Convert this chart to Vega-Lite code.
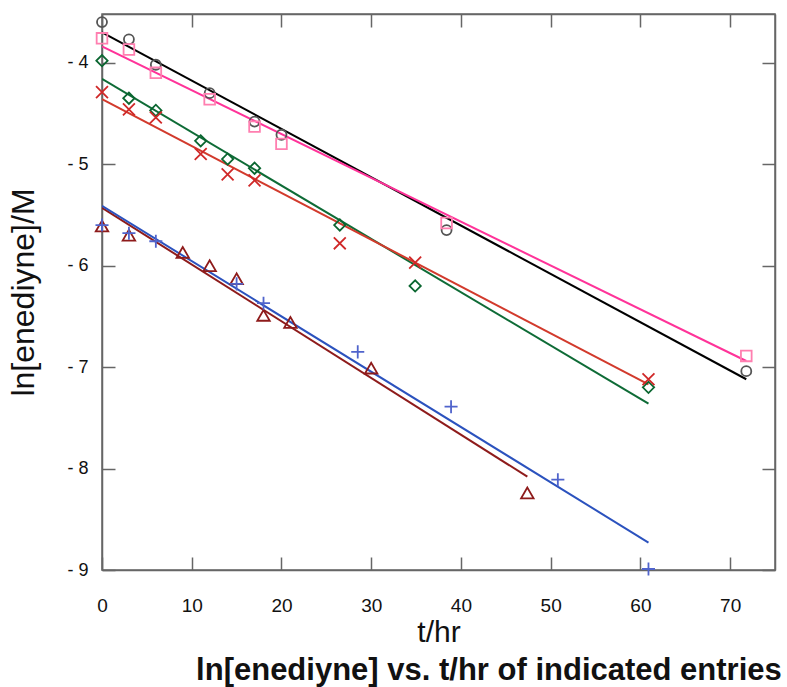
{
  "$schema": "https://vega.github.io/schema/vega-lite/v6.json",
  "width": 673,
  "height": 556,
  "autosize": {"type": "none"},
  "padding": {"left": 102, "top": 14, "right": 12, "bottom": 117},
  "background": "white",
  "config": {
    "view": {"stroke": "#666", "strokeWidth": 1.5},
    "font": "Liberation Sans",
    "axis": {
      "domainColor": "#666",
      "domainWidth": 1.5,
      "tickColor": "#666",
      "tickWidth": 1.5,
      "grid": false,
      "labelFlush": false,
      "labelFont": "Liberation Sans",
      "labelColor": "#111",
      "titleFont": "Liberation Sans",
      "titleFontWeight": "normal",
      "titleColor": "#111"
    }
  },
  "title": {
    "text": "ln[enediyne] vs. t/hr of indicated entries",
    "orient": "bottom",
    "anchor": "end",
    "fontSize": 31,
    "fontWeight": "bold",
    "font": "Liberation Sans",
    "color": "#111",
    "offset": 9,
    "dx": 6
  },
  "datasets": {
    "pts": [
      {"series": "A", "t": 0, "y": -3.6},
      {"series": "A", "t": 3, "y": -3.77},
      {"series": "A", "t": 6, "y": -4.02},
      {"series": "A", "t": 12, "y": -4.3},
      {"series": "A", "t": 17, "y": -4.58},
      {"series": "A", "t": 20, "y": -4.71},
      {"series": "A", "t": 38.4, "y": -5.65},
      {"series": "A", "t": 71.8, "y": -7.04},
      {"series": "B", "t": 0, "y": -3.76},
      {"series": "B", "t": 3, "y": -3.87},
      {"series": "B", "t": 6, "y": -4.1},
      {"series": "B", "t": 12, "y": -4.36},
      {"series": "B", "t": 17, "y": -4.63},
      {"series": "B", "t": 20, "y": -4.8},
      {"series": "B", "t": 38.4, "y": -5.58},
      {"series": "B", "t": 71.8, "y": -6.89},
      {"series": "C", "t": 0, "y": -3.98},
      {"series": "C", "t": 3, "y": -4.35},
      {"series": "C", "t": 6, "y": -4.47},
      {"series": "C", "t": 11, "y": -4.77},
      {"series": "C", "t": 14, "y": -4.95},
      {"series": "C", "t": 17, "y": -5.04},
      {"series": "C", "t": 26.5, "y": -5.6},
      {"series": "C", "t": 34.9, "y": -6.2},
      {"series": "C", "t": 60.9, "y": -7.2},
      {"series": "D", "t": 0, "y": -4.29},
      {"series": "D", "t": 3, "y": -4.46},
      {"series": "D", "t": 6, "y": -4.54},
      {"series": "D", "t": 11, "y": -4.9},
      {"series": "D", "t": 14, "y": -5.1},
      {"series": "D", "t": 17, "y": -5.16},
      {"series": "D", "t": 26.5, "y": -5.78},
      {"series": "D", "t": 34.9, "y": -5.97},
      {"series": "D", "t": 60.9, "y": -7.12},
      {"series": "E", "t": 0, "y": -5.61},
      {"series": "E", "t": 3, "y": -5.7},
      {"series": "E", "t": 9, "y": -5.87},
      {"series": "E", "t": 12, "y": -6.0},
      {"series": "E", "t": 15, "y": -6.13},
      {"series": "E", "t": 18, "y": -6.49},
      {"series": "E", "t": 21, "y": -6.56},
      {"series": "E", "t": 30, "y": -7.01},
      {"series": "E", "t": 47.4, "y": -8.24},
      {"series": "F", "t": 0, "y": -5.6},
      {"series": "F", "t": 3, "y": -5.68},
      {"series": "F", "t": 6, "y": -5.76},
      {"series": "F", "t": 15, "y": -6.18},
      {"series": "F", "t": 18, "y": -6.37},
      {"series": "F", "t": 28.5, "y": -6.85},
      {"series": "F", "t": 38.9, "y": -7.39},
      {"series": "F", "t": 50.8, "y": -8.11},
      {"series": "F", "t": 60.9, "y": -8.99}
    ],
    "fits": [
      {"series": "A", "t": 0, "y": -3.7},
      {"series": "A", "t": 71.8, "y": -7.12},
      {"series": "B", "t": 0, "y": -3.84},
      {"series": "B", "t": 71.8, "y": -6.94},
      {"series": "C", "t": 0, "y": -4.16},
      {"series": "C", "t": 60.9, "y": -7.36},
      {"series": "D", "t": 0, "y": -4.36},
      {"series": "D", "t": 60.9, "y": -7.17},
      {"series": "E", "t": 0, "y": -5.43},
      {"series": "E", "t": 47.4, "y": -8.08},
      {"series": "F", "t": 0, "y": -5.41},
      {"series": "F", "t": 60.9, "y": -8.73}
    ]
  },
  "layer": [
    {
      "data": {"name": "fits"},
      "mark": {"type": "line", "strokeWidth": 2, "clip": true},
      "encoding": {
        "x": {
          "field": "t", "type": "quantitative",
          "scale": {"domain": [0, 75], "nice": false, "zero": false},
          "axis": {
            "orient": "bottom", "values": [0, 10, 20, 30, 40, 50, 60, 70],
            "tickSize": -13, "labelPadding": 39, "labelFontSize": 19,
            "title": "t/hr", "titleFontSize": 30, "titlePadding": 2
          }
        },
        "y": {
          "field": "y", "type": "quantitative",
          "scale": {"domain": [-9, -3.52], "nice": false, "zero": false},
          "axis": {
            "orient": "left", "values": [-9, -8, -7, -6, -5, -4],
            "labelExpr": "'- ' + abs(datum.value)",
            "tickSize": -13, "labelPadding": 27, "labelFontSize": 18,
            "title": "ln[enediyne]/M", "titleFontSize": 32, "titlePadding": 26
          }
        },
        "detail": {"field": "series"},
        "stroke": {
          "field": "series", "type": "nominal",
          "scale": {"domain": ["A", "B", "C", "D", "E", "F"], "range": ["#000000", "#FF3399", "#0E6B36", "#D23A2C", "#8E1B1B", "#2B52BE"]},
          "legend": null
        }
      }
    },
    {
      "data": {"name": "pts"},
      "mark": {"type": "point", "filled": false, "strokeWidth": 1.8, "opacity": 1},
      "encoding": {
        "x": {
          "field": "t", "type": "quantitative",
          "axis": {
            "orient": "top", "values": [0, 10, 20, 30, 40, 50, 60, 70],
            "tickSize": -13, "labels": false, "title": null
          }
        },
        "y": {
          "field": "y", "type": "quantitative",
          "axis": {
            "orient": "right", "values": [-9, -8, -7, -6, -5, -4],
            "tickSize": -13, "labels": false, "title": null
          }
        },
        "color": {
          "field": "series", "type": "nominal",
          "scale": {"domain": ["A", "B", "C", "D", "E", "F"], "range": ["#555555", "#FF7FB0", "#0A6630", "#D02828", "#8E1B1B", "#5064CC"]},
          "legend": null
        },
        "shape": {
          "field": "series", "type": "nominal",
          "scale": {"domain": ["A", "B", "C", "D", "E", "F"], "range": ["circle", "square", "diamond", "M-1,-1L1,1M-1,1L1,-1", "triangle-up", "M-1,0L1,0M0,-1L0,1"]},
          "legend": null
        },
        "size": {
          "field": "series", "type": "nominal",
          "scale": {"domain": ["A", "B", "C", "D", "E", "F"], "range": [100, 170, 100, 180, 150, 200]},
          "legend": null
        }
      }
    }
  ],
  "resolve": {"axis": {"x": "independent", "y": "independent"}}
}
